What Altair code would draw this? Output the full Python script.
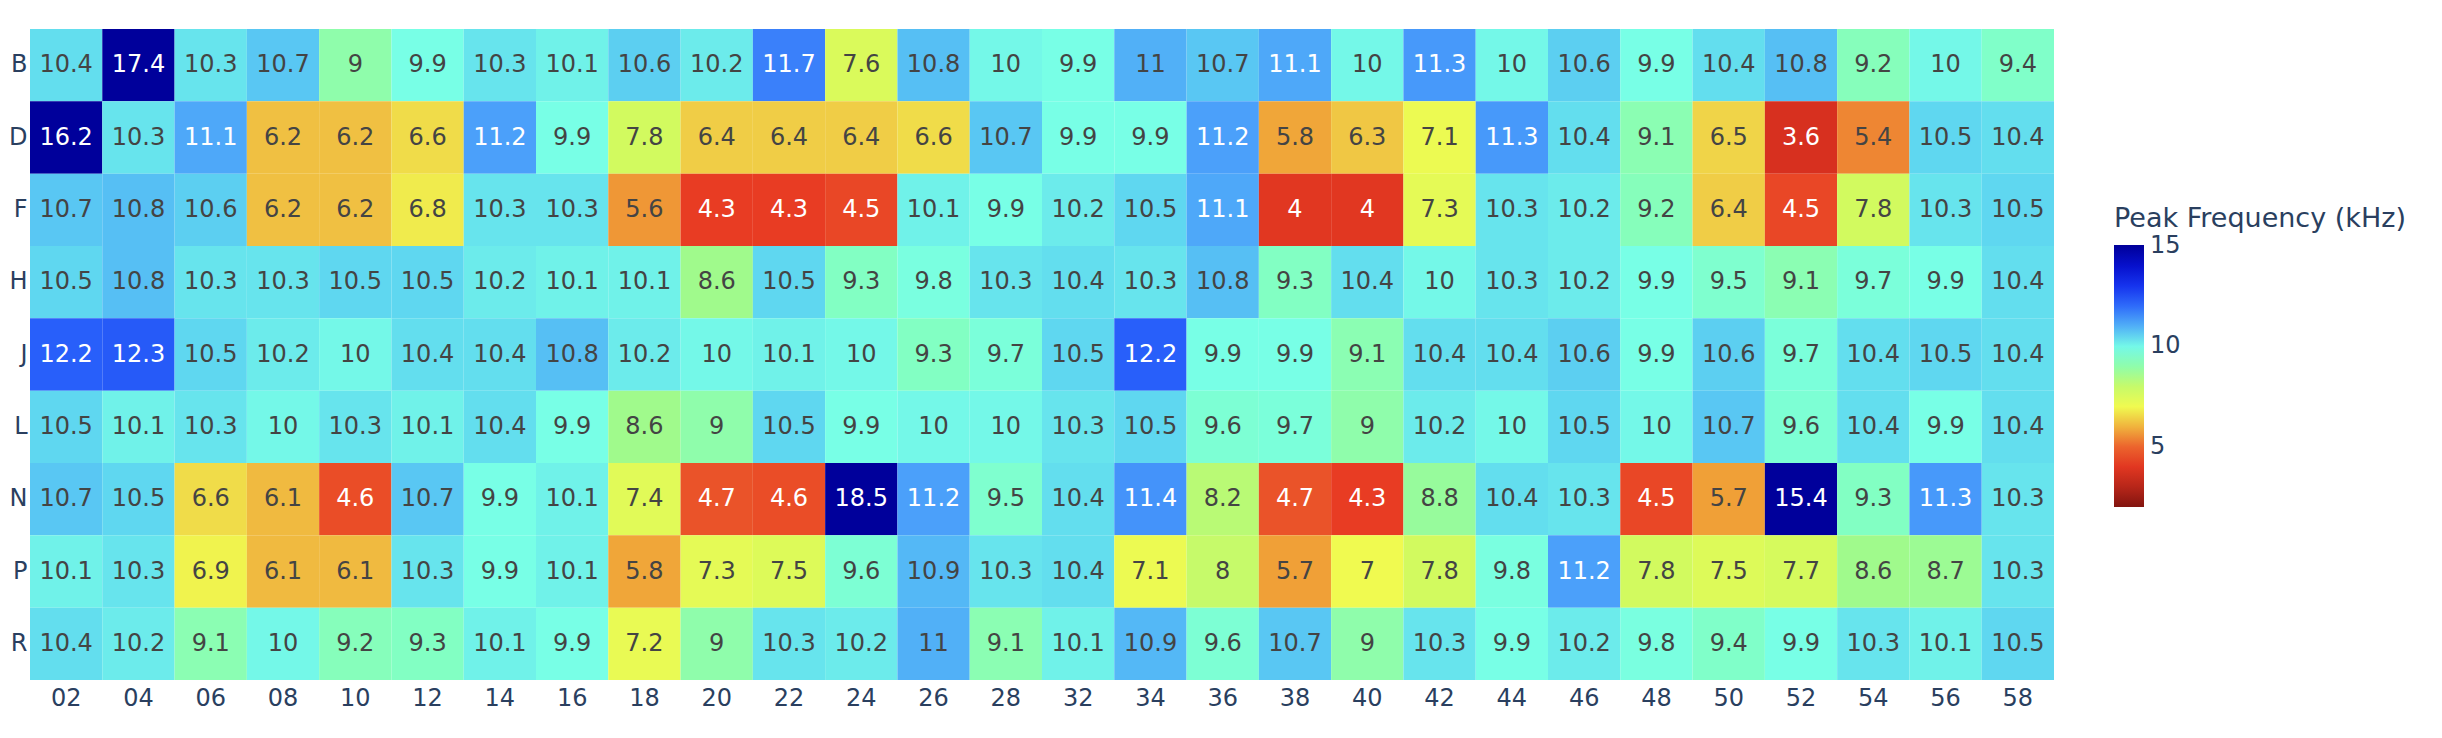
import altair as alt
import pandas as pd

columns = ["02", "04", "06", "08", "10", "12", "14", "16", "18", "20", "22", "24", "26", "28",
           "32", "34", "36", "38", "40", "42", "44", "46", "48", "50", "52", "54", "56", "58"]
rows = ["B", "D", "F", "H", "J", "L", "N", "P", "R"]

row_B = [10.4, 17.4, 10.3, 10.7, 9, 9.9, 10.3, 10.1, 10.6, 10.2, 11.7, 7.6, 10.8, 10,
         9.9, 11, 10.7, 11.1, 10, 11.3, 10, 10.6, 9.9, 10.4, 10.8, 9.2, 10, 9.4]
row_D = [16.2, 10.3, 11.1, 6.2, 6.2, 6.6, 11.2, 9.9, 7.8, 6.4, 6.4, 6.4, 6.6, 10.7,
         9.9, 9.9, 11.2, 5.8, 6.3, 7.1, 11.3, 10.4, 9.1, 6.5, 3.6, 5.4, 10.5, 10.4]
row_F = [10.7, 10.8, 10.6, 6.2, 6.2, 6.8, 10.3, 10.3, 5.6, 4.3, 4.3, 4.5, 10.1, 9.9,
         10.2, 10.5, 11.1, 4, 4, 7.3, 10.3, 10.2, 9.2, 6.4, 4.5, 7.8, 10.3, 10.5]
row_H = [10.5, 10.8, 10.3, 10.3, 10.5, 10.5, 10.2, 10.1, 10.1, 8.6, 10.5, 9.3, 9.8, 10.3,
         10.4, 10.3, 10.8, 9.3, 10.4, 10, 10.3, 10.2, 9.9, 9.5, 9.1, 9.7, 9.9, 10.4]
row_J = [12.2, 12.3, 10.5, 10.2, 10, 10.4, 10.4, 10.8, 10.2, 10, 10.1, 10, 9.3, 9.7,
         10.5, 12.2, 9.9, 9.9, 9.1, 10.4, 10.4, 10.6, 9.9, 10.6, 9.7, 10.4, 10.5, 10.4]
row_L = [10.5, 10.1, 10.3, 10, 10.3, 10.1, 10.4, 9.9, 8.6, 9, 10.5, 9.9, 10, 10,
         10.3, 10.5, 9.6, 9.7, 9, 10.2, 10, 10.5, 10, 10.7, 9.6, 10.4, 9.9, 10.4]
row_N = [10.7, 10.5, 6.6, 6.1, 4.6, 10.7, 9.9, 10.1, 7.4, 4.7, 4.6, 18.5, 11.2, 9.5,
         10.4, 11.4, 8.2, 4.7, 4.3, 8.8, 10.4, 10.3, 4.5, 5.7, 15.4, 9.3, 11.3, 10.3]
row_P = [10.1, 10.3, 6.9, 6.1, 6.1, 10.3, 9.9, 10.1, 5.8, 7.3, 7.5, 9.6, 10.9, 10.3,
         10.4, 7.1, 8, 5.7, 7, 7.8, 9.8, 11.2, 7.8, 7.5, 7.7, 8.6, 8.7, 10.3]
row_R = [10.4, 10.2, 9.1, 10, 9.2, 9.3, 10.1, 9.9, 7.2, 9, 10.3, 10.2, 11, 9.1,
         10.1, 10.9, 9.6, 10.7, 9, 10.3, 9.9, 10.2, 9.8, 9.4, 9.9, 10.3, 10.1, 10.5]

row_values = [row_B, row_D, row_F, row_H, row_J, row_L, row_N, row_P, row_R]

legend_ticks = [5, 10, 15]

records = []
for r, vals in zip(rows, row_values):
    for c, v in zip(columns, vals):
        records.append({"row": r, "col": c, "v": v})
df = pd.DataFrame(records)

FONT = "DejaVu Sans"
AXIS_COLOR = "#2a3f5f"

color_domain = [2, 3.6, 4.3, 5.0, 5.7, 6.4, 7.0, 7.8, 8.6, 9.3, 9.9, 10.5, 11.2, 12.2, 13.5, 15, 15.05]
color_range = ["#82140f", "#d7301f", "#e83c23", "#ec642d", "#f0a037", "#f0cd46", "#f0fa50",
               "#d2fa5f", "#a0fa8c", "#82ffc3", "#78ffe6", "#5fd7f0", "#4ba0fa", "#285ffa",
               "#0a19e6", "#00009b", "#00009b"]

x_enc = alt.X("col:O", sort=columns, title=None,
              scale=alt.Scale(paddingInner=0, paddingOuter=0),
              axis=alt.Axis(labelAngle=0, labelPadding=18, labelBaseline="middle",
                            ticks=False, tickSize=0, domain=False, grid=False))
y_enc = alt.Y("row:O", sort=rows, title=None,
              scale=alt.Scale(paddingInner=0, paddingOuter=0),
              axis=alt.Axis(labelPadding=3, ticks=False, tickSize=0, domain=False, grid=False))

base = alt.Chart(df).encode(x=x_enc, y=y_enc)

rects = base.mark_rect().encode(
    color=alt.Color(
        "v:Q",
        scale=alt.Scale(domain=color_domain, range=color_range, clamp=True, interpolate="rgb"),
        legend=alt.Legend(
            title="Peak Frequency (kHz)", orient="none", legendX=2084, legendY=177,
            direction="vertical", gradientLength=262, gradientThickness=30,
            values=legend_ticks, labelBaseline="middle", labelOffset=6,
            titleFontSize=27, titleFont=FONT, titleColor=AXIS_COLOR, titleFontWeight="normal",
            titlePadding=12, titleBaseline="top", titleAlign="left", titleLimit=600,
            labelFontSize=24, labelFont=FONT, labelColor=AXIS_COLOR,
            gradientStrokeWidth=0, padding=0,
        ),
    )
)

texts = base.mark_text(font=FONT, fontSize=24).encode(
    text=alt.Text("v:Q", format=".1~f"),
    color=alt.condition("datum.v >= 11.05 || datum.v <= 4.95",
                        alt.value("#ffffff"), alt.value("#444444")),
)

chart = (
    alt.layer(rects, texts)
    .resolve_scale(color="independent")
    .properties(width=2024, height=651, padding={"left": 0, "top": 21, "right": 0, "bottom": 0})
    .configure_view(stroke=None)
    .configure_axis(labelFont=FONT, labelFontSize=24, labelColor=AXIS_COLOR)
)

chart.save("out.html", embed_options={"renderer": "svg", "actions": False})
